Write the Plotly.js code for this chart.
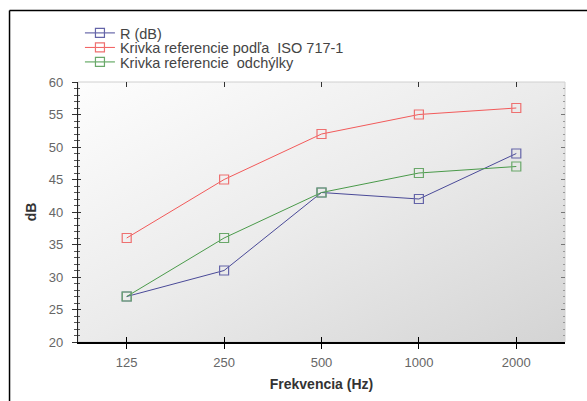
<!DOCTYPE html>
<html>
<head>
<meta charset="utf-8">
<script src="https://cdn.plot.ly/plotly-3.0.1.min.js"></script>
<style>html,body{margin:0;padding:0;background:#fff;}#chart{width:587px;height:401px;}</style>
</head>
<body>
<div id="chart"></div>
<script>
const freqs = ["125", "250", "500", "1000", "2000"];
const rValues = [27, 31, 43, 42, 49];
const refIsoValues = [36, 45, 52, 55, 56];
const refDevValues = [27, 36, 43, 46, 47];
const seriesNames = ["R (dB)", "Krivka referencie podľa  ISO 717-1", "Krivka referencie  odchýlky"];
const blanks = freqs.map(() => null);

const FONT = "Liberation Sans, Arial, sans-serif";

function series(name, y, lineColor, markerColor, legendId) {
  return {
    type: "scatter", mode: "lines+markers", name: name, legend: legendId,
    x: freqs, y: y,
    line: {color: lineColor, width: 1},
    marker: {symbol: "square-open", size: 9, color: markerColor, line: {width: 1.2, color: markerColor}}
  };
}

const traces = [
  series(seriesNames[0], rValues, "#4a4a98", "#6464a8", "legend"),
  series(seriesNames[1], refIsoValues, "#f25a5a", "#ee7070", "legend2"),
  series(seriesNames[2], refDevValues, "#4a9a4a", "#6aa86a", "legend3"),
  {type: "scatter", mode: "markers", x: freqs, y: blanks, xaxis: "x2", yaxis: "y2", showlegend: false, hoverinfo: "skip"},
  {type: "scatter", mode: "markers", x: freqs, y: blanks, xaxis: "x3", yaxis: "y3", showlegend: false, hoverinfo: "skip"}
];

const gradSvg = '<svg xmlns="http://www.w3.org/2000/svg" width="100" height="100" preserveAspectRatio="none">' +
  '<defs><linearGradient id="g" x1="0" y1="0" x2="1" y2="1">' +
  '<stop offset="0" stop-color="#fdfdfd"/><stop offset="0.5" stop-color="#ebebeb"/><stop offset="1" stop-color="#d4d4d4"/>' +
  '</linearGradient></defs><rect width="100" height="100" fill="url(#g)"/></svg>';

const xBase = {type: "category", categoryarray: freqs, categoryorder: "array", range: [-0.5, 4.5], fixedrange: true};
const yBase = {range: [20, 60], dtick: 5, tick0: 20, fixedrange: true, showgrid: false, zeroline: false};

function legendAt(yPaper) {
  return {
    x: 0.004, y: yPaper, xanchor: "left", yanchor: "middle",
    bgcolor: "rgba(0,0,0,0)", borderwidth: 0,
    font: {family: FONT, size: 14.5, color: "#444"},
    tracegroupgap: 0, itemwidth: 30
  };
}

const layout = {
  width: 587, height: 401,
  margin: {l: 78, r: 22, t: 82, b: 59},
  paper_bgcolor: "#ffffff",
  plot_bgcolor: "rgba(0,0,0,0)",
  font: {family: FONT, size: 13, color: "#666"},
  showlegend: true,
  legend: legendAt(1.1885),
  legend2: legendAt(1.1327),
  legend3: legendAt(1.0769),
  images: [{
    source: "data:image/svg+xml;charset=utf-8," + encodeURIComponent(gradSvg),
    xref: "paper", yref: "paper", x: 0, y: 1, sizex: 1, sizey: 1,
    xanchor: "left", yanchor: "top", sizing: "stretch", layer: "below"
  }],
  shapes: [
    {type: "rect", xref: "paper", yref: "paper", x0: 0, x1: 1, y0: 0, y1: 1, line: {color: "#d0d0d0", width: 1}, fillcolor: "rgba(0,0,0,0)", layer: "below"},
    {type: "line", xref: "paper", yref: "paper", x0: -0.1406, x1: -0.1406, y0: 1.275, y1: -0.4, line: {color: "#000", width: 1.5}},
    {type: "line", xref: "paper", yref: "paper", x0: -0.1406, x1: 1.2, y0: 1.275, y1: 1.275, line: {color: "#000", width: 1.5}}
  ],
  xaxis: Object.assign({}, xBase, {
    showline: true, linecolor: "#000", linewidth: 1.5,
    ticks: "outside", ticklen: 5, tickcolor: "#000", tickwidth: 1,
    tickfont: {family: FONT, size: 13, color: "#666"},
    ticklabelstandoff: 3,
    showgrid: false,
    title: {text: "Frekvencia (Hz)", font: {family: FONT, size: 14, color: "#333", weight: "bold"}, standoff: 10},
    automargin: false
  }),
  xaxis2: Object.assign({}, xBase, {
    overlaying: "x", side: "bottom", anchor: "y2",
    showline: false, ticks: "inside", ticklen: 5, tickcolor: "#000", tickwidth: 1,
    showticklabels: false, showgrid: false
  }),
  xaxis3: Object.assign({}, xBase, {
    overlaying: "x", side: "top", anchor: "y3",
    showline: false, ticks: "inside", ticklen: 5, tickcolor: "#333", tickwidth: 1,
    showticklabels: false, showgrid: false
  }),
  yaxis: Object.assign({}, yBase, {
    showline: true, linecolor: "#222", linewidth: 1.2,
    ticks: "outside", ticklen: 5, tickcolor: "#333", tickwidth: 1,
    minor: {dtick: 1, ticks: "outside", ticklen: 3, tickcolor: "#555", tickwidth: 1},
    tickfont: {family: FONT, size: 13, color: "#666"},
    ticklabelstandoff: 6,
    title: {text: "dB", font: {family: FONT, size: 14, color: "#333", weight: "bold"}, standoff: 8},
    automargin: false
  }),
  yaxis2: Object.assign({}, yBase, {
    overlaying: "y", side: "left", anchor: "x2",
    showline: false, ticks: "inside", ticklen: 3, tickcolor: "#333", tickwidth: 1,
    minor: {dtick: 1, ticks: "inside", ticklen: 2, tickcolor: "#555", tickwidth: 1},
    showticklabels: false
  }),
  yaxis3: Object.assign({}, yBase, {
    overlaying: "y", side: "right", anchor: "x3",
    showline: false, ticks: "inside", ticklen: 4, tickcolor: "#777", tickwidth: 1,
    minor: {dtick: 1, ticks: "inside", ticklen: 2, tickcolor: "#999", tickwidth: 1},
    showticklabels: false
  })
};

Plotly.newPlot("chart", traces, layout, {staticPlot: true, displayModeBar: false});
</script>
</body>
</html>
